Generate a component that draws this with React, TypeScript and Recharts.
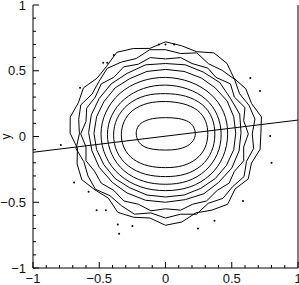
import React from "react";
import { ScatterChart, Scatter, XAxis, YAxis, Label } from "recharts";

type Pt = { x: number; y: number };

const toPts = (arr: number[][]): Pt[] => arr.map(([x, y]) => ({ x, y }));

// axis ticks (every 0.1, labels on the halves)
const tickValues = [-1, -0.9, -0.8, -0.7, -0.6, -0.5, -0.4, -0.3, -0.2, -0.1, 0, 0.1, 0.2, 0.3, 0.4, 0.5, 0.6, 0.7, 0.8, 0.9, 1];

// contour levels, innermost first
const level1 = toPts([
  [0.23, 0.02], [0.215, 0.075], [0.18, 0.115], [0.1, 0.14], [0.0, 0.145], [-0.1, 0.14], [-0.18, 0.11], [-0.215, 0.07],
  [-0.225, 0.02], [-0.21, -0.035], [-0.17, -0.08], [-0.09, -0.1], [0.0, -0.105], [0.09, -0.1], [0.17, -0.075], [0.215, -0.03],
]);
const level2 = toPts([
  [0.325, 0.015], [0.31, 0.12], [0.25, 0.205], [0.135, 0.255], [0.0, 0.27], [-0.135, 0.26], [-0.255, 0.205], [-0.32, 0.115],
  [-0.34, 0.015], [-0.32, -0.09], [-0.25, -0.18], [-0.13, -0.23], [0.0, -0.24], [0.13, -0.23], [0.24, -0.175], [0.305, -0.09],
]);
const level3 = toPts([
  [0.38, 0.01], [0.36, 0.145], [0.285, 0.25], [0.155, 0.315], [0.0, 0.33], [-0.155, 0.32], [-0.29, 0.25], [-0.375, 0.14],
  [-0.4, 0.01], [-0.375, -0.12], [-0.29, -0.23], [-0.155, -0.295], [0.0, -0.31], [0.155, -0.295], [0.28, -0.225], [0.355, -0.12],
]);
const level4 = toPts([
  [0.43, 0.015], [0.4, 0.165], [0.315, 0.29], [0.17, 0.37], [0.0, 0.4], [-0.17, 0.375], [-0.32, 0.29], [-0.415, 0.165],
  [-0.45, 0.015], [-0.415, -0.14], [-0.32, -0.27], [-0.17, -0.35], [0.0, -0.37], [0.17, -0.35], [0.31, -0.265], [0.4, -0.14],
]);
const level5 = toPts([
  [0.48, 0.02], [0.45, 0.19], [0.35, 0.33], [0.19, 0.425], [0.0, 0.46], [-0.19, 0.43], [-0.355, 0.335], [-0.46, 0.19],
  [-0.5, 0.02], [-0.46, -0.16], [-0.355, -0.3], [-0.19, -0.395], [0.0, -0.42], [0.19, -0.395], [0.345, -0.3], [0.445, -0.16],
]);
const level6 = toPts([
  [0.53, 0.025], [0.515, 0.15], [0.465, 0.27], [0.375, 0.37], [0.27, 0.445], [0.14, 0.495], [0.0, 0.51], [-0.14, 0.495],
  [-0.27, 0.44], [-0.38, 0.37], [-0.465, 0.265], [-0.52, 0.15], [-0.54, 0.025], [-0.52, -0.1], [-0.465, -0.215], [-0.38, -0.32],
  [-0.27, -0.39], [-0.14, -0.445], [0.0, -0.46], [0.14, -0.445], [0.265, -0.395], [0.375, -0.32], [0.46, -0.22], [0.515, -0.1],
]);
const level7 = toPts([
  [0.57, 0.03], [0.56, 0.17], [0.49, 0.29], [0.41, 0.41], [0.285, 0.49], [0.15, 0.545], [0.0, 0.555], [-0.15, 0.545],
  [-0.29, 0.48], [-0.41, 0.4], [-0.5, 0.29], [-0.56, 0.165], [-0.58, 0.03], [-0.555, -0.11], [-0.5, -0.235], [-0.4, -0.35],
  [-0.29, -0.43], [-0.15, -0.485], [0.0, -0.5], [0.15, -0.48], [0.29, -0.435], [0.4, -0.35], [0.5, -0.24], [0.555, -0.11],
]);
const level8 = toPts([
  [0.625, 0.02], [0.59, 0.12], [0.6, 0.22], [0.52, 0.3], [0.49, 0.4], [0.38, 0.45], [0.32, 0.52], [0.2, 0.555], [0.115, 0.6],
  [0.0, 0.59], [-0.115, 0.6], [-0.205, 0.55], [-0.315, 0.53], [-0.39, 0.45], [-0.485, 0.4], [-0.53, 0.3], [-0.595, 0.215], [-0.6, 0.115],
  [-0.64, 0.02], [-0.6, -0.08], [-0.6, -0.185], [-0.535, -0.265], [-0.485, -0.355], [-0.39, -0.41], [-0.315, -0.49], [-0.205, -0.515], [-0.11, -0.565],
  [0.0, -0.55], [0.115, -0.56], [0.205, -0.515], [0.31, -0.49], [0.39, -0.41], [0.48, -0.355], [0.52, -0.265], [0.59, -0.185], [0.59, -0.08],
]);
const level9 = toPts([
  [0.655, 0.02], [0.675, 0.133], [0.63, 0.237], [0.559, 0.325], [0.521, 0.435], [0.428, 0.503], [0.325, 0.553], [0.236, 0.636], [0.114, 0.631],
  [0.0, 0.66], [-0.119, 0.66], [-0.221, 0.593], [-0.333, 0.566], [-0.44, 0.518], [-0.502, 0.419], [-0.554, 0.323], [-0.639, 0.241], [-0.655, 0.13],
  [-0.65, 0.02], [-0.675, -0.093], [-0.616, -0.192], [-0.585, -0.3], [-0.529, -0.401], [-0.418, -0.451], [-0.333, -0.526], [-0.234, -0.591], [-0.112, -0.581],
  [0.0, -0.62], [0.114, -0.591], [0.234, -0.591], [0.323, -0.508], [0.434, -0.47], [0.506, -0.382], [0.593, -0.305], [0.611, -0.19], [0.665, -0.091],
]);
const level10 = toPts([
  [0.72, 0.025], [0.724, 0.149], [0.649, 0.252], [0.606, 0.363], [0.517, 0.443], [0.463, 0.557], [0.365, 0.636], [0.234, 0.645], [0.122, 0.69],
  [0.0, 0.72], [-0.118, 0.67], [-0.243, 0.669], [-0.368, 0.64], [-0.444, 0.534], [-0.517, 0.443], [-0.619, 0.37], [-0.658, 0.256], [-0.719, 0.148],
  [-0.72, 0.025], [-0.665, -0.088], [-0.667, -0.209], [-0.632, -0.328], [-0.532, -0.406], [-0.431, -0.469], [-0.36, -0.577], [-0.241, -0.614], [-0.118, -0.62],
  [0.0, -0.675], [0.124, -0.65], [0.229, -0.581], [0.35, -0.56], [0.469, -0.515], [0.525, -0.399], [0.624, -0.323], [0.649, -0.202], [0.714, -0.097],
]);

// isolated specks outside the outer contour
const specks = toPts([
  [-0.79, -0.065], [-0.69, -0.35], [-0.58, -0.42], [-0.52, -0.56], [-0.45, -0.56], [-0.36, -0.67], [-0.35, -0.74], [-0.25, -0.68],
  [0.8, -0.2], [0.585, -0.49], [0.37, -0.64], [0.245, -0.7], [0.713, 0.346], [0.79, 0.004], [0.64, 0.445],
  [-0.645, 0.37], [-0.47, 0.56], [-0.44, 0.56], [-0.05, 0.7], [0.0, 0.7], [0.065, 0.7], [-0.39, 0.62],
]);

// fitted line
const fitLine = toPts([[-1, -0.12], [1, 0.125]]);

const smoothLevels = [level1, level2, level3, level4, level5];
const roughLevels = [level6, level7, level8, level9, level10];

const FONT = "'Liberation Sans', Arial, sans-serif";
const isMajor = (v: number) => Math.abs(v * 2 - Math.round(v * 2)) < 1e-6;
const fmt = (v: number) => (Math.abs(v) < 1e-9 ? "0" : String(v).replace("-", "\u2212"));

const noDot = () => <g />;

const BottomTick = (p: any) => {
  const major = isMajor(p.payload.value);
  return (
    <g>
      <line x1={p.x} x2={p.x} y1={p.y} y2={p.y - (major ? 6 : 3)} stroke="#000" />
      {major && (
        <text x={p.x} y={p.y + 15} textAnchor="middle" fontSize={13} fontFamily={FONT} fill="#111">
          {fmt(p.payload.value)}
        </text>
      )}
    </g>
  );
};

const TopTick = (p: any) => {
  const major = isMajor(p.payload.value);
  return <line x1={p.x} x2={p.x} y1={p.y} y2={p.y + (major ? 6 : 3)} stroke="#000" />;
};

const LeftTick = (p: any) => {
  const major = isMajor(p.payload.value);
  return (
    <g>
      <line x1={p.x} x2={p.x + (major ? 6 : 3)} y1={p.y} y2={p.y} stroke="#000" />
      {major && (
        <text x={p.x - 7} y={p.y + 4.5} textAnchor="end" fontSize={13} fontFamily={FONT} fill="#111">
          {fmt(p.payload.value)}
        </text>
      )}
    </g>
  );
};

const RightTick = (p: any) => {
  const major = isMajor(p.payload.value);
  return <line x1={p.x} x2={p.x - (major ? 6 : 3)} y1={p.y} y2={p.y} stroke="#000" />;
};

const YLabel = (p: any) => {
  const vb = p.viewBox;
  const cx = vb.x + 10;
  const cy = vb.y + vb.height / 2;
  return (
    <text x={cx} y={cy} transform={`rotate(-90 ${cx} ${cy})`} textAnchor="middle" fontSize={12} fontFamily={FONT} fill="#111">
      y
    </text>
  );
};

export default function App() {
  return (
    <div style={{ position: "absolute", left: 0, top: 0, background: "#fff" }}>
      <ScatterChart width={299} height={285} margin={{ top: 5, right: 0, bottom: 0, left: 0 }}>
        <XAxis
          xAxisId="b"
          type="number"
          dataKey="x"
          domain={[-1, 1]}
          ticks={tickValues}
          interval={0}
          height={17}
          tickSize={0}
          tickMargin={0}
          tickLine={false}
          axisLine={{ stroke: "#000" }}
          tick={<BottomTick />}
        />
        <XAxis
          xAxisId="t"
          orientation="top"
          type="number"
          dataKey="x"
          domain={[-1, 1]}
          ticks={tickValues}
          interval={0}
          height={0}
          tickSize={0}
          tickMargin={0}
          tickLine={false}
          axisLine={{ stroke: "#000" }}
          tick={<TopTick />}
        />
        <YAxis
          yAxisId="l"
          type="number"
          dataKey="y"
          domain={[-1, 1]}
          ticks={tickValues}
          interval={0}
          width={33}
          tickSize={0}
          tickMargin={0}
          tickLine={false}
          axisLine={{ stroke: "#000" }}
          tick={<LeftTick />}
        >
          <Label content={<YLabel />} />
        </YAxis>
        <YAxis
          yAxisId="r"
          orientation="right"
          type="number"
          dataKey="y"
          domain={[-1, 1]}
          ticks={tickValues}
          interval={0}
          width={1}
          tickSize={0}
          tickMargin={0}
          tickLine={false}
          axisLine={{ stroke: "#000" }}
          tick={<RightTick />}
        />
        {smoothLevels.map((lv, i) => (
          <Scatter
            key={"s" + i}
            xAxisId="b"
            yAxisId="l"
            data={lv}
            line={{ stroke: "#000", strokeWidth: 1 }}
            lineJointType="basisClosed"
            shape={noDot}
            isAnimationActive={false}
          />
        ))}
        {roughLevels.map((lv, i) => (
          <Scatter
            key={"r" + i}
            xAxisId="b"
            yAxisId="l"
            data={lv}
            line={{ stroke: "#000", strokeWidth: 1 }}
            lineJointType="linearClosed"
            shape={noDot}
            isAnimationActive={false}
          />
        ))}
        <Scatter
          xAxisId="b"
          yAxisId="l"
          data={specks}
          fill="#000"
          shape={(p: any) => <circle cx={p.cx} cy={p.cy} r={1} fill="#000" />}
          isAnimationActive={false}
        />
        <Scatter
          xAxisId="b"
          yAxisId="l"
          data={fitLine}
          line={{ stroke: "#000", strokeWidth: 1 }}
          shape={noDot}
          isAnimationActive={false}
        />
      </ScatterChart>
    </div>
  );
}
